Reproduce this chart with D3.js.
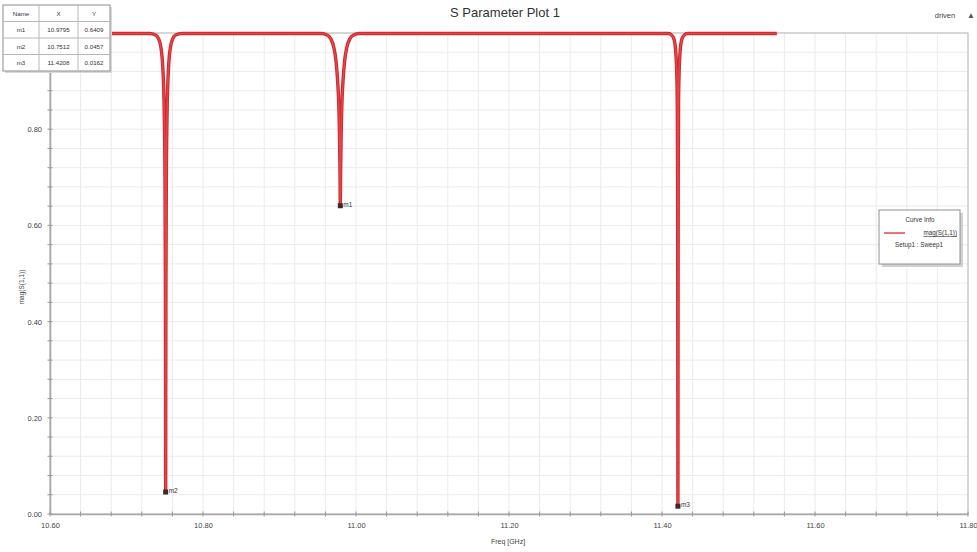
<!DOCTYPE html>
<html><head><meta charset="utf-8">
<script src="https://cdn.jsdelivr.net/npm/d3@7"></script>
<style>body{margin:0;background:#fff;font-family:"Liberation Sans",Arial,sans-serif}</style>
</head><body><svg id="c" width="977" height="552"></svg>
<script>
const title = "S Parameter Plot 1";
const xTicks = [10.60, 10.80, 11.00, 11.20, 11.40, 11.60, 11.80];
const yTicks = [0.00, 0.20, 0.40, 0.60, 0.80, 1.00];
const freq = [10.600, 10.730, 10.738, 10.742, 10.745, 10.747, 10.7485, 10.7495, 10.7503, 10.7508, 10.7511, 10.7512,
  10.7513, 10.7516, 10.7521, 10.7529, 10.7539, 10.7554, 10.7574, 10.7604, 10.7644, 10.7724,
  10.955, 10.962, 10.967, 10.971, 10.974, 10.976, 10.9775, 10.9785, 10.9791, 10.9795,
  10.9799, 10.9805, 10.9815, 10.9830, 10.9850, 10.9880, 10.9920, 10.9970, 11.0040,
  11.408, 11.413, 11.416, 11.418, 11.4192, 11.4200, 11.4204, 11.4206, 11.4207, 11.4208,
  11.4209, 11.4210, 11.4212, 11.4216, 11.4224, 11.4236, 11.4256, 11.4286, 11.4336, 11.550];
const mag = [0.999, 0.999, 0.996, 0.988, 0.970, 0.940, 0.890, 0.820, 0.700, 0.500, 0.250, 0.0457,
  0.250, 0.500, 0.700, 0.820, 0.890, 0.940, 0.970, 0.988, 0.996, 0.999,
  0.999, 0.996, 0.988, 0.970, 0.940, 0.900, 0.850, 0.780, 0.710, 0.6409,
  0.710, 0.780, 0.850, 0.900, 0.940, 0.970, 0.988, 0.996, 0.999,
  0.999, 0.995, 0.985, 0.960, 0.920, 0.850, 0.700, 0.450, 0.250, 0.0162,
  0.250, 0.450, 0.700, 0.850, 0.920, 0.960, 0.985, 0.995, 0.999, 0.999];
const markerNames = ["m1", "m2", "m3"];
const markerX = [10.9795, 10.7512, 11.4208];
const markerY = [0.6409, 0.0457, 0.0162];
const legendLines = ["Curve Info", "mag(S(1,1))", "Setup1 : Sweep1"];

const svg = d3.select("#c");
const L = 50, R = 968, T = 33, B = 514;
const x = d3.scaleLinear().domain([10.6, 11.8]).range([L, R]);
const y = d3.scaleLinear().domain([0, 1]).range([B, T]);

// grid
const gx = d3.range(10.6, 11.8001, 0.04), gy = d3.range(0, 1.0001, 0.04);
svg.append("g").selectAll("line").data(gx).join("line")
  .attr("x1", d => x(d)).attr("x2", d => x(d)).attr("y1", T).attr("y2", B)
  .attr("stroke", "#ebebef").attr("stroke-width", 1);
svg.append("g").selectAll("line").data(gy).join("line")
  .attr("y1", d => y(d)).attr("y2", d => y(d)).attr("x1", L).attr("x2", R)
  .attr("stroke", "#ebebef").attr("stroke-width", 1);
// frame
svg.append("rect").attr("x", L).attr("y", T).attr("width", R - L).attr("height", B - T)
  .attr("fill", "none").attr("stroke", "#b8b8b8").attr("stroke-width", 1);

// axes
const ax = svg.append("g").attr("transform", `translate(0,${B})`)
  .call(d3.axisBottom(x).tickValues(xTicks).tickFormat(d3.format(".2f")).tickSize(0).tickPadding(9));
const ay = svg.append("g").attr("transform", `translate(${L},0)`)
  .call(d3.axisLeft(y).tickValues(yTicks).tickFormat(d3.format(".2f")).tickSize(0).tickPadding(8));
[ax, ay].forEach(g => {
  g.select(".domain").attr("stroke", "#a8a8a8").attr("stroke-width", 1.6);
  g.selectAll("text").attr("font-size", 7.5).attr("fill", "#444").attr("font-family", "Liberation Sans, Arial");
});
// minor tick marks
svg.append("g").selectAll("line").data(gx).join("line")
  .attr("x1", d => x(d)).attr("x2", d => x(d)).attr("y1", B - 2.5).attr("y2", B + 2.5)
  .attr("stroke", "#999").attr("stroke-width", 1);
svg.append("g").selectAll("line").data(gy).join("line")
  .attr("y1", d => y(d)).attr("y2", d => y(d)).attr("x1", L - 2.5).attr("x2", L + 2.5)
  .attr("stroke", "#999").attr("stroke-width", 1);

// labels
svg.append("text").attr("x", 505).attr("y", 17).attr("text-anchor", "middle")
  .attr("font-size", 13).attr("fill", "#333").text(title);
svg.append("text").attr("x", 945).attr("y", 18).attr("text-anchor", "middle")
  .attr("font-size", 7.5).attr("fill", "#444").text("driven");
svg.append("text").attr("x", 971).attr("y", 18).attr("text-anchor", "middle")
  .attr("font-size", 8).attr("fill", "#555").text("▲");
svg.append("text").attr("x", 508).attr("y", 544).attr("text-anchor", "middle")
  .attr("font-size", 7).attr("fill", "#444").text("Freq [GHz]");
svg.append("text").attr("transform", "translate(24,287) rotate(-90)").attr("text-anchor", "middle")
  .attr("font-size", 6.5).attr("fill", "#444").text("mag(S(1,1))");

// curve
const pts = freq.map((f, i) => [f, mag[i]]);
const line = d3.line().x(d => x(d[0])).y(d => y(d[1])).curve(d3.curveMonotoneX);
svg.append("path").datum(pts).attr("d", line).attr("fill", "none")
  .attr("stroke", "#c42a2e").attr("stroke-width", 3.4).attr("stroke-linejoin", "round");
svg.append("path").datum(pts).attr("d", line).attr("fill", "none")
  .attr("stroke", "#ee4044").attr("stroke-width", 1.6).attr("stroke-linejoin", "round");

// markers
const mg = svg.append("g");
markerNames.forEach((n, i) => {
  mg.append("rect").attr("x", x(markerX[i]) - 2.5).attr("y", y(markerY[i]) - 2.5)
    .attr("width", 5).attr("height", 5).attr("fill", "#3a2a2a");
  mg.append("text").attr("x", x(markerX[i]) + 3).attr("y", y(markerY[i]) + 1)
    .attr("font-size", 6.5).attr("fill", "#333").text(n);
});

// marker table
const tb = svg.append("g");
tb.append("rect").attr("x", 5).attr("y", 7).attr("width", 107).attr("height", 66).attr("fill", "#d8d8d8");
tb.append("rect").attr("x", 3).attr("y", 5).attr("width", 107).attr("height", 66)
  .attr("fill", "#fff").attr("stroke", "#a0a0a0").attr("stroke-width", 1.2);
const cols = [3, 39, 78, 110], rowH = 16.5;
[39, 78].forEach(cx => tb.append("line").attr("x1", cx).attr("x2", cx).attr("y1", 5).attr("y2", 71).attr("stroke", "#b8b8b8"));
[1, 2, 3].forEach(r => tb.append("line").attr("x1", 3).attr("x2", 110).attr("y1", 5 + r * rowH).attr("y2", 5 + r * rowH).attr("stroke", "#b8b8b8"));
const header = ["Name", "X", "Y"];
header.forEach((h, c) => tb.append("text").attr("x", (cols[c] + cols[c + 1]) / 2).attr("y", 5 + rowH / 2 + 2.3)
  .attr("text-anchor", "middle").attr("font-size", 6.2).attr("fill", "#333").text(h));
markerNames.forEach((n, r) => {
  const vals = [n, markerX[r].toFixed(4), markerY[r].toFixed(4)];
  vals.forEach((v, c) => tb.append("text").attr("x", (cols[c] + cols[c + 1]) / 2).attr("y", 5 + (r + 1) * rowH + rowH / 2 + 2.3)
    .attr("text-anchor", "middle").attr("font-size", 6.2).attr("fill", "#333").text(v));
});

// legend
const lg = svg.append("g");
lg.append("rect").attr("x", 882).attr("y", 213).attr("width", 81).attr("height", 54).attr("fill", "#d0d0d0");
lg.append("rect").attr("x", 879).attr("y", 210).attr("width", 81).attr("height", 54)
  .attr("fill", "#fff").attr("stroke", "#909090").attr("stroke-width", 1);
lg.append("text").attr("x", 920).attr("y", 222).attr("text-anchor", "middle")
  .attr("font-size", 6.3).attr("fill", "#333").text(legendLines[0]);
lg.append("line").attr("x1", 884).attr("x2", 905).attr("y1", 233).attr("y2", 233)
  .attr("stroke", "#e03a3e").attr("stroke-width", 1.4);
lg.append("text").attr("x", 957).attr("y", 235).attr("text-anchor", "end")
  .attr("font-size", 6.3).attr("fill", "#333").attr("text-decoration", "underline").text(legendLines[1]);
lg.append("text").attr("x", 919).attr("y", 247).attr("text-anchor", "middle")
  .attr("font-size", 6.3).attr("fill", "#333").text(legendLines[2]);
</script></body></html>
